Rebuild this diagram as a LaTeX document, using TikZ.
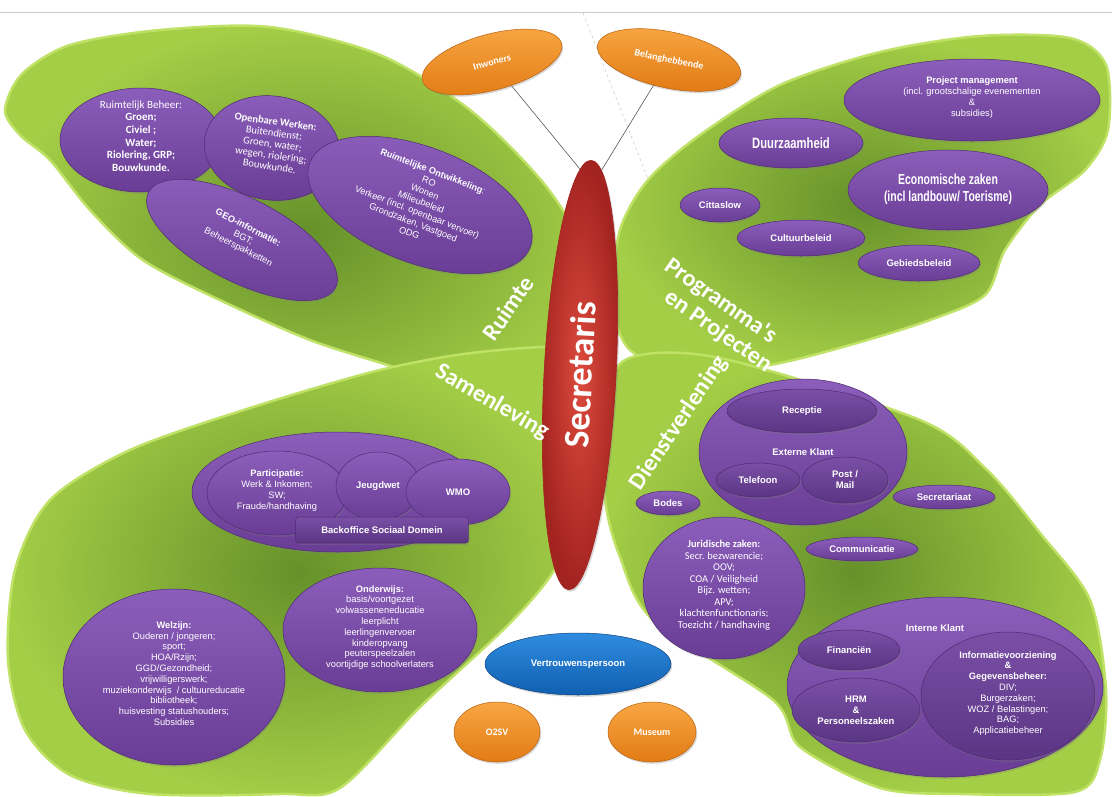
\documentclass[tikz,border=0pt]{standalone}
\usepackage{fontspec}
\usepackage{graphicx}
\setmainfont{Liberation Sans}
\newfontfamily\calibri{Carlito}
\usetikzlibrary{shapes.geometric, positioning, shadows}

\definecolor{wingdark}{HTML}{66912A}
\definecolor{winglight}{HTML}{A4CE46}
\definecolor{wingrim}{HTML}{BFE266}
\definecolor{depttop}{HTML}{8B5EBB}
\definecolor{deptbot}{HTML}{693D95}
\definecolor{deptline}{HTML}{4E2A73}
\definecolor{subtop}{HTML}{7A50A6}
\definecolor{subbot}{HTML}{5B3584}
\definecolor{bodylight}{HTML}{DC4A3C}
\definecolor{bodydark}{HTML}{A32320}
\definecolor{orangetop}{HTML}{F8A743}
\definecolor{orangebot}{HTML}{E27B15}
\definecolor{orangeline}{HTML}{B8600E}
\definecolor{bluetop}{HTML}{2F8CE0}
\definecolor{bluebot}{HTML}{105FB0}

% text block that does not widen its ellipse
\newcommand{\midtext}[1]{\makebox[0pt]{\raisebox{0pt}[0pt][0pt]{\begin{tabular}{@{}c@{}}#1\end{tabular}}}}

\begin{document}
\begin{tikzpicture}[
    x=1pt, y=-1pt,
    sz/.style 2 args={minimum width=#1, minimum height=#2},
    wing/.style={draw=wingrim, line width=2.5pt, inner color=wingdark, outer color=winglight},
    dept/.style={ellipse, draw=deptline, line width=0.5pt, top color=depttop, bottom color=deptbot, text=white, inner sep=0pt, drop shadow={opacity=0.3, shadow xshift=1.2pt, shadow yshift=-1.8pt}, font=\fontsize{9.3}{10.8}\selectfont},
    deptb/.style={dept, font=\bfseries\fontsize{9.5}{11}\selectfont},
    subdept/.style={dept, top color=subtop, bottom color=subbot},
    subdeptb/.style={deptb, top color=subtop, bottom color=subbot},
    partner/.style={ellipse, draw=orangeline, line width=0.5pt, top color=orangetop, bottom color=orangebot, text=white, inner sep=0pt, drop shadow={opacity=0.3, shadow xshift=1.2pt, shadow yshift=-1.8pt}, font=\calibri\bfseries\fontsize{10}{12}\selectfont},
    body/.style={ellipse, draw=bodydark, line width=0.6pt, inner color=bodylight, outer color=bodydark, text=white, inner sep=0pt, drop shadow={opacity=0.3, shadow xshift=1.5pt, shadow yshift=-2pt}, font=\calibri\bfseries\fontsize{36}{38}\selectfont},
    wingtitle/.style={text=white, inner sep=0pt, font=\calibri\bfseries\fontsize{24}{26}\selectfont},
    link/.style={draw=black!65, line width=0.6pt}
]
\useasboundingbox (0,0) rectangle (1112,796);
\fill[white] (0,0) rectangle (1112,796);

% Achtergrond
\draw[black!20, line width=0.8pt] (0,12) -- (1112,12);
\draw[black!25, dashed] (583,13) -- (662,215);

% Vleugels
\path[wing] plot[smooth cycle] coordinates {(5,110) (22,74) (70,45) (160,30) (270,27) (380,55) (470,110) (545,185) (590,260) (608,340) (600,415) (570,440) (510,418) (420,376) (310,340) (205,293) (140,258) (90,210) (50,160) (20,135)};
\path[wing] plot[smooth cycle] coordinates {(612,300) (620,230) (648,180) (700,135) (780,85) (880,52) (980,36) (1070,38) (1106,65) (1108,130) (1085,170) (1040,205) (1005,250) (985,295) (930,320) (850,345) (770,365) (690,372) (630,350)};
\path[wing] plot[smooth cycle] coordinates {(585,400) (575,350) (480,352) (380,370) (250,408) (130,450) (50,500) (15,570) (8,660) (25,730) (70,775) (150,794) (280,794) (340,788) (420,707) (513,620) (560,560) (582,480)};
\path[wing] plot[smooth cycle] coordinates {(625,360) (720,358) (920,420) (987,470) (1040,533) (1090,600) (1106,690) (1100,760) (1075,792) (960,794) (880,788) (800,747) (773,700) (653,620) (620,557) (605,500) (603,420)};

% Lichaam
\node[body, sz={430}{72}, rotate=87] (secretaris) at (580,375) {Secretaris};

% Omgeving
\node[partner, sz={144}{56}, rotate=15] (inwoners) at (492,62) {Inwoners};
\node[partner, sz={146}{56}, rotate=-12] (belang) at (669,60) {Belanghebbende};
\node[partner, sz={86}{60}] (o2sv) at (497,732) {O2SV};
\node[partner, sz={88}{60}] (museum) at (652,732) {Museum};
\node[deptb, sz={186}{62}, draw=bluebot!70!black, top color=bluetop, bottom color=bluebot] (vertrouwen) at (578,664) {Vertrouwenspersoon};

\path[link] (inwoners) -- (secretaris.3);
\path[link] (belang) -- (secretaris.357);

% Ruimte
\node[dept, sz={162}{104}, font=\calibri\fontsize{11}{12.7}\selectfont] (beheer) at (141,140)
  {\midtext{Ruimtelijk Beheer:\\ \textbf{Groen;}\\ \textbf{Civiel ;}\\ \textbf{Water;}\\ \textbf{Riolering, GRP;}\\ \textbf{Bouwkunde.}}};
\node[dept, sz={136}{104}, rotate=-8, font=\calibri\fontsize{10.5}{11.2}\selectfont] (werken) at (272,148)
  {\midtext{\textbf{Openbare Werken:}\\ Buitendienst;\\ Groen, water;\\ wegen, riolering;\\ Bouwkunde.}};
\node[dept, sz={210}{84}, rotate=-27] (geo) at (242,240)
  {\midtext{\textbf{GEO-informatie:}\\ BGT;\\ Beheerspakketten}};
\node[dept, sz={236}{116}, rotate=-21, font=\fontsize{9.2}{11}\selectfont] (ontwikkeling) at (420,205)
  {\midtext{\textbf{Ruimtelijke Ontwikkeling}:\\ RO\\ Wonen\\ Milieubeleid\\ Verkeer (incl. openbaar vervoer)\\ Grondzaken, Vastgoed\\ ODG}};

% Programma's en Projecten
\node[dept, sz={256}{82}] (projectman) at (972,100)
  {\midtext{\textbf{Project management}\\ (incl. grootschalige evenementen\\ \&\\ subsidies)}};
\node[dept, sz={144}{50}] (duurzaam) at (791,143)
  {\scalebox{0.75}[1]{\bfseries\fontsize{15}{17}\selectfont Duurzaamheid}};
\node[dept, sz={200}{80}] (economie) at (948,190)
  {\scalebox{0.72}[1]{\bfseries\fontsize{14.5}{17}\selectfont\begin{tabular}{@{}c@{}}Economische zaken\\(incl landbouw/ Toerisme)\end{tabular}}};
\node[deptb, sz={80}{34}] (cittaslow) at (720,205) {Cittaslow};
\node[deptb, sz={128}{36}] (cultuur) at (801,238) {Cultuurbeleid};
\node[deptb, sz={122}{36}] (gebied) at (919,263) {Gebiedsbeleid};

% Samenleving
\node[dept, sz={290}{120}] (sociaal) at (337,492) {};
\node[dept, sz={140}{84}] (participatie) at (277,493)
  {\midtext{\textbf{Participatie:}\\ Werk \& Inkomen;\\ SW;\\ Fraude/handhaving}};
\node[deptb, sz={84}{68}] (jeugdwet) at (378,486) {Jeugdwet};
\node[deptb, sz={104}{66}] (wmo) at (458,492) {WMO};
\node[deptb, rectangle, rounded corners=3pt, sz={173}{26}, top color=subtop, bottom color=subbot] (backoffice) at (382,530) {Backoffice Sociaal Domein};
\node[dept, sz={222}{176}] (welzijn) at (174,677)
  {\midtext{\textbf{Welzijn:}\\ Ouderen / jongeren;\\ sport;\\ HOA/Rzijn;\\ GGD/Gezondheid;\\ vrijwilligerswerk;\\ muziekonderwijs~ / cultuureducatie\\ bibliotheek;\\ huisvesting statushouders;\\ Subsidies}};
\node[dept, sz={194}{124}] (onderwijs) at (380,630)
  {\midtext{\textbf{Onderwijs:}\\ basis/voortgezet\\ volwasseneneducatie\\ leerplicht\\ leerlingenvervoer\\ kinderopvang\\ peuterspeelzalen\\ voortijdige schoolverlaters}};

% Dienstverlening
\node[deptb, sz={208}{146}] (extern) at (803,452) {Externe Klant};
\node[subdeptb, sz={150}{44}] (receptie) at (802,411) {Receptie};
\node[subdeptb, sz={84}{34}] (telefoon) at (758,480) {Telefoon};
\node[subdeptb, sz={86}{46}, align=center] (postmail) at (845,480) {Post /\\Mail};
\node[deptb, sz={64}{24}] (bodes) at (668,503) {Bodes};
\node[deptb, sz={102}{24}] (secretariaat) at (944,497) {Secretariaat};
\node[deptb, sz={112}{24}] (communicatie) at (862,549) {Communicatie};
\node[dept, sz={162}{142}, font=\calibri\fontsize{10.4}{11.5}\selectfont] (juridisch) at (724,588)
  {\midtext{\textbf{Juridische zaken:}\\ Secr. bezwarencie;\\ OOV;\\ COA / Veiligheid\\ Bijz. wetten;\\ APV;\\ klachtenfunctionaris;\\ Toezicht / handhaving}};
\node[dept, sz={316}{180}] (intern) at (945,687) {};
\node[text=white, font=\bfseries\fontsize{9.5}{11}\selectfont] (lbl_intern) at (935,628) {Interne Klant};
\node[subdeptb, sz={102}{40}] (financien) at (849,650) {Financiën};
\node[subdeptb, sz={128}{64}, align=center] (hrm) at (856,710) {HRM\\\&\\Personeelszaken};
\node[subdept, sz={174}{128}] (informatie) at (1008,696)
  {\midtext{\textbf{Informatievoorziening}\\ \textbf{\&}\\ \textbf{Gegevensbeheer:}\\ DIV;\\ Burgerzaken;\\ WOZ / Belastingen;\\ BAG;\\ Applicatiebeheer}};

% Titels
\node[wingtitle, rotate=55] (lbl_ruimte) at (508,308) {Ruimte};
\node[wingtitle, rotate=-35, align=left] (lbl_programma) at (718,316) {Programma's\\\hspace*{18pt}en Projecten};
\node[wingtitle, rotate=-30] (lbl_samenleving) at (492,402) {Samenleving};
\node[wingtitle, rotate=56] (lbl_dienst) at (679,423) {Dienstverlening};

\end{tikzpicture}
\end{document}
